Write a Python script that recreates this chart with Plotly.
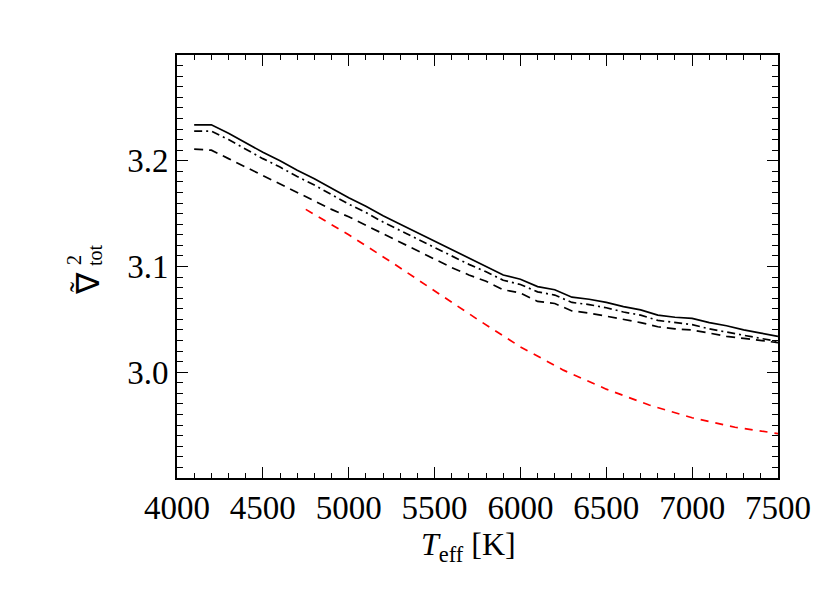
import plotly.graph_objects as go

# Temperature grid (K)
teff = [4100, 4200, 4300, 4400, 4500, 4600, 4700, 4800, 4900, 5000,
        5100, 5200, 5300, 5400, 5500, 5600, 5700, 5800, 5900, 6000,
        6100, 6200, 6300, 6400, 6500, 6600, 6700, 6800, 6900, 7000,
        7100, 7200, 7300, 7400, 7500]

solid = [3.234, 3.234, 3.226, 3.217, 3.208, 3.200, 3.191, 3.183, 3.174, 3.165,
         3.157, 3.148, 3.140, 3.132, 3.124, 3.116, 3.108, 3.100, 3.092, 3.088,
         3.081, 3.078, 3.071, 3.069, 3.066, 3.062, 3.059, 3.054, 3.052, 3.051,
         3.047, 3.044, 3.040, 3.037, 3.034]

dashdot = [3.228, 3.228, 3.220, 3.211, 3.202, 3.194, 3.185, 3.177, 3.168, 3.159,
           3.151, 3.142, 3.134, 3.126, 3.118, 3.110, 3.102, 3.095, 3.087, 3.083,
           3.076, 3.073, 3.066, 3.064, 3.061, 3.057, 3.054, 3.049, 3.047, 3.045,
           3.041, 3.038, 3.035, 3.032, 3.029]

dashed = [3.211, 3.210, 3.202, 3.194, 3.186, 3.178, 3.170, 3.162, 3.154, 3.147,
          3.139, 3.131, 3.123, 3.115, 3.107, 3.099, 3.092, 3.086, 3.078, 3.075,
          3.067, 3.065, 3.058, 3.056, 3.053, 3.050, 3.047, 3.043, 3.041, 3.040,
          3.037, 3.034, 3.032, 3.030, 3.028]

teff_red = [4750, 5000, 5250, 5500, 5750, 6000, 6250, 6500, 6750, 7000, 7250, 7500]
red = [3.154, 3.130, 3.104, 3.077, 3.050, 3.024, 3.002, 2.984, 2.969, 2.957, 2.948, 2.942]

x_ticks = [4000, 4500, 5000, 5500, 6000, 6500, 7000, 7500]
y_ticks = [3.0, 3.1, 3.2]
y_ticktext = ["3.0", "3.1", "3.2"]

fig = go.Figure()
fig.add_trace(go.Scatter(x=teff, y=solid, mode="lines",
                         line=dict(color="black", width=1.7)))
fig.add_trace(go.Scatter(x=teff, y=dashdot, mode="lines",
                         line=dict(color="black", width=1.7, dash="8px,4px,2px,4px")))
fig.add_trace(go.Scatter(x=teff, y=dashed, mode="lines",
                         line=dict(color="black", width=1.7, dash="9px,6px")))
fig.add_trace(go.Scatter(x=teff_red, y=red, mode="lines",
                         line=dict(color="red", width=1.7, dash="8px,7px")))

# page body has an 8px margin: compensate so the plot box lands at 177..778, 55..478
OFF = 8
W, H = 830, 592
PL, PT, PW, PH = 177, 55, 601, 423
L = PL - OFF
T = PT - OFF
R = W - L - PW
B = H - T - PH

def px(xp):
    return (xp - PL) / PW

def py(yp):
    return (PT + PH - yp) / PH

font = "Liberation Serif, Times New Roman, serif"

axis_common = dict(showline=True, linecolor="black", linewidth=1.6, mirror="ticks",
                   ticks="inside", ticklen=11, tickwidth=1.4, tickcolor="black",
                   showgrid=False, zeroline=False,
                   tickfont=dict(family=font, size=33, color="black"))

fig.update_xaxes(range=[4000, 7500], tickvals=x_ticks,
                 minor=dict(ticks="inside", dtick=100, tick0=4000, ticklen=5,
                            tickwidth=1.2, tickcolor="black", showgrid=False),
                 **axis_common)
fig.update_yaxes(range=[2.9, 3.3], tickvals=y_ticks, ticktext=y_ticktext,
                 ticklabelstandoff=0,
                 minor=dict(ticks="inside", dtick=0.01, tick0=2.9, ticklen=6,
                            tickwidth=1.2, tickcolor="black", showgrid=False),
                 **axis_common)

# x-axis title
fig.add_annotation(text="<i>T</i><sub>eff</sub> [K]", x=px(468), y=py(546),
                   xref="paper", yref="paper", showarrow=False,
                   xanchor="center", yanchor="middle",
                   font=dict(family=font, size=32, color="black"))

# y-axis title pieces (rotated)
annots = [
    dict(text="∇", x=px(88), y=py(284), size=32),
    dict(text="˜", x=px(79), y=py(287), size=30),
    dict(text="2", x=px(74), y=py(260), size=20),
    dict(text="tot", x=px(95), y=py(255), size=20),
]
for a in annots:
    fig.add_annotation(text=a["text"], x=a["x"], y=a["y"], xref="paper", yref="paper",
                       showarrow=False, textangle=-90, xanchor="center", yanchor="middle",
                       font=dict(family=font, size=a["size"], color="black"))

fig.update_layout(width=W, height=H, margin=dict(l=L, r=R, t=T, b=B),
                  paper_bgcolor="white", plot_bgcolor="white", showlegend=False)

fig.write_html("out.html")
